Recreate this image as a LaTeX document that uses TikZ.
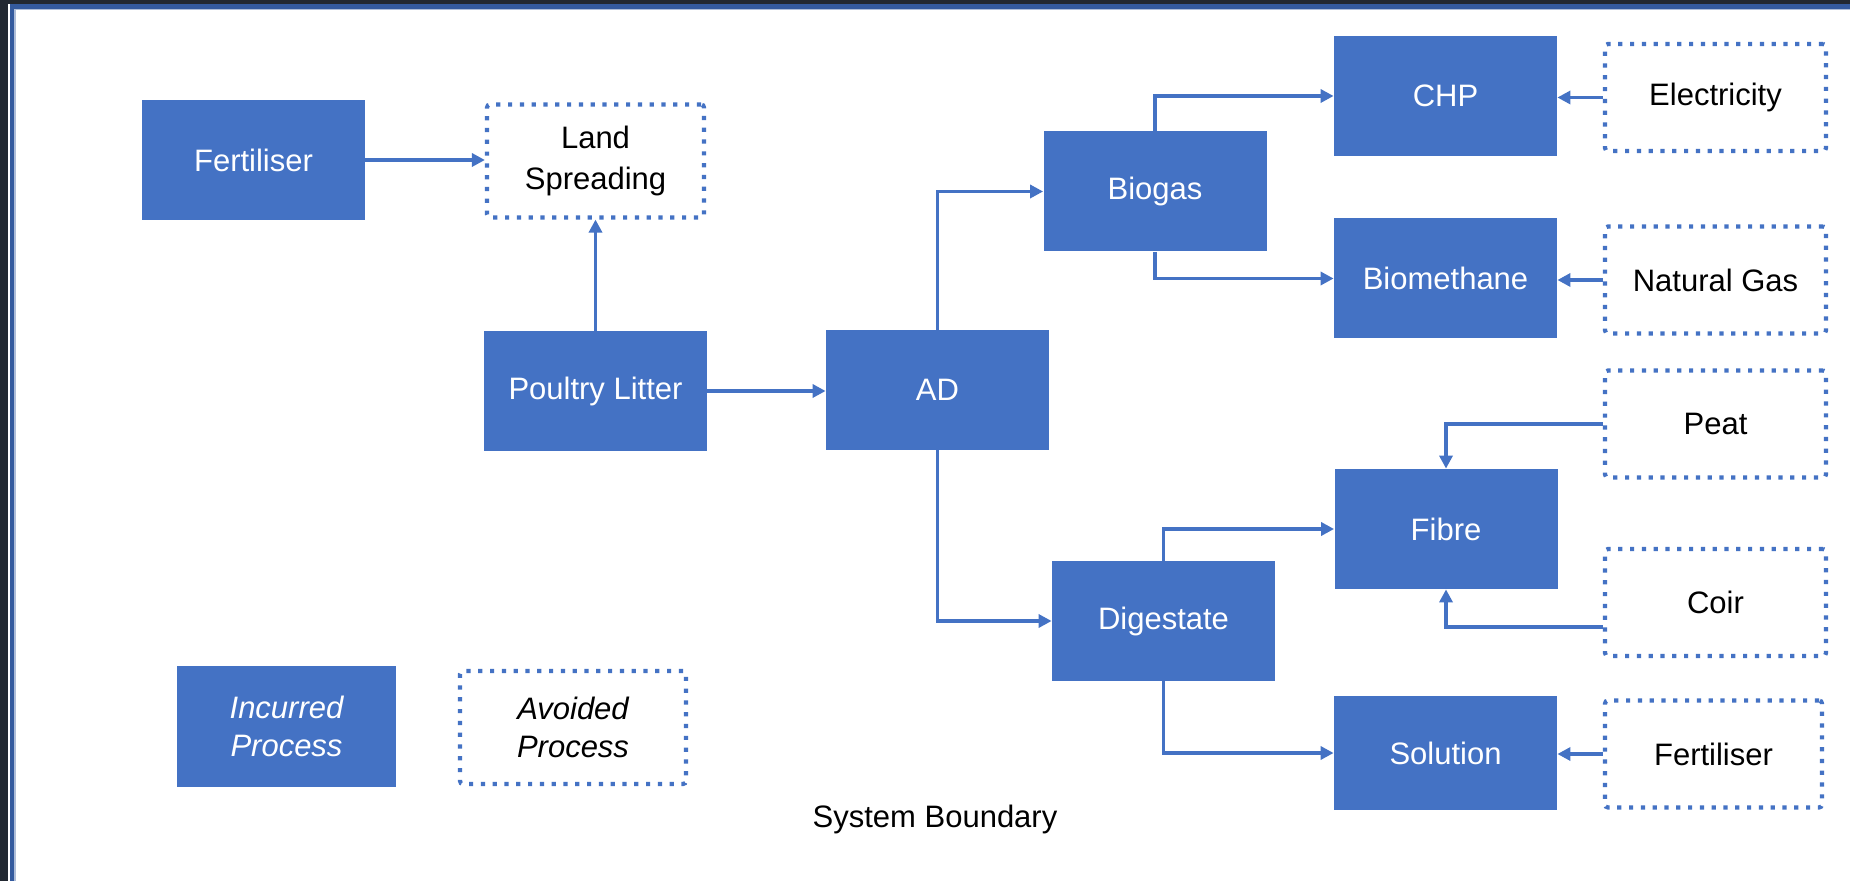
\documentclass[tikz,border=0pt]{standalone}
\usepackage{fontspec}
\setmainfont{Liberation Sans}
\usetikzlibrary{arrows.meta,calc}
\definecolor{boxblue}{RGB}{68,114,196}
\definecolor{framedark}{RGB}{34,40,49}
\definecolor{frameblue}{RGB}{52,90,158}
\begin{document}
\begin{tikzpicture}[x=0.5pt,y=-0.5pt,
  txt/.style={font=\fontsize{15.5}{19}\selectfont},
  inc/.style={txt, fill=boxblue, draw=none, text=white, minimum width=111.5pt, minimum height=60pt, inner sep=0pt, align=center},
  avd/.style={txt, fill=white, draw=boxblue, line width=2.1pt, dash pattern=on 2.1pt off 3.8pt, rounded corners=1.5pt, text=black, minimum width=110.5pt, minimum height=53.5pt, inner sep=0pt, align=center},
  flow/.style={draw=boxblue, line width=1.9pt, -{Triangle[length=6.5pt,width=6.5pt]}}]
\useasboundingbox (0,0) rectangle (1850,881);
% frame
\fill[white] (0,0) rectangle (1850,881);
\fill[framedark] (0,0) rectangle (8,881);
\fill[framedark] (0,0) rectangle (1850,4);
\fill[frameblue!40] (9.5,4) rectangle (15.5,881);
\fill[frameblue!40] (9.5,4) rectangle (1850,10.5);
\fill[frameblue] (9.5,4) rectangle (14,881);
\fill[frameblue] (9.5,4) rectangle (1850,9);
% nodes
\node[inc] (fertL) at (253.5,160) {Fertiliser};
\node[avd, minimum width=108.5pt, minimum height=56.5pt, font=\fontsize{15.5}{20.5}\selectfont] (land) at (595.5,161) {Land\\Spreading};
\node[inc] (poultry) at (595.5,391) {Poultry Litter};
\node[inc] (ad) at (937.5,390) {AD};
\node[inc] (biogas) at (1155,191.5) {Biogas};
\node[inc] (chp) at (1445.5,96) {CHP};
\node[inc] (biometh) at (1445.5,278.5) {Biomethane};
\node[inc] (fibre) at (1446,529) {Fibre};
\node[inc] (dig) at (1163.5,621) {Digestate};
\node[inc, minimum height=57pt] (sol) at (1445.5,753) {Solution};
\node[avd] (elec) at (1715.5,97.5) {Electricity};
\node[avd] (ngas) at (1715.5,280) {Natural Gas};
\node[avd] (peat) at (1715.5,424) {Peat};
\node[avd] (coir) at (1715.5,602.5) {Coir};
\node[avd, minimum width=108.5pt] (fertR) at (1713.5,754) {Fertiliser};
\node[inc, minimum width=109.5pt, minimum height=60.5pt, font=\fontsize{15.5}{19}\selectfont\itshape] (incurred) at (286.5,726.5) {Incurred\\Process};
\node[avd, minimum width=113pt, minimum height=56.5pt, font=\fontsize{15.5}{19}\selectfont\itshape] (avoided) at (573,727.5) {Avoided\\Process};
\node[txt] (sb) at (935,819) {System Boundary};
% connectors
\draw[flow] (fertL.east) -- (fertL.east -| land.west);
\draw[flow] (poultry.north) -- (land.south);
\draw[flow] (poultry.east) -- (poultry.east -| ad.west);
\draw[flow] (ad.north) |- (biogas.west);
\draw[flow] (ad.south) |- (dig.west);
\draw[flow] (biogas.north) |- (chp.west);
\draw[flow] (biogas.south) |- (biometh.west);
\draw[flow] (elec.west) -- (elec.west -| chp.east);
\draw[flow] (ngas.west) -- (ngas.west -| biometh.east);
\draw[flow] (peat.west) -| (fibre.north);
\coordinate (coirout) at ($(coir.north west)!0.72!(coir.south west)$);
\draw[flow] (coirout) -| (fibre.south);
\draw[flow] (dig.north) |- (fibre.west);
\draw[flow] (dig.south) |- (sol.west);
\draw[flow] (fertR.west) -- (fertR.west -| sol.east);
\end{tikzpicture}
\end{document}
